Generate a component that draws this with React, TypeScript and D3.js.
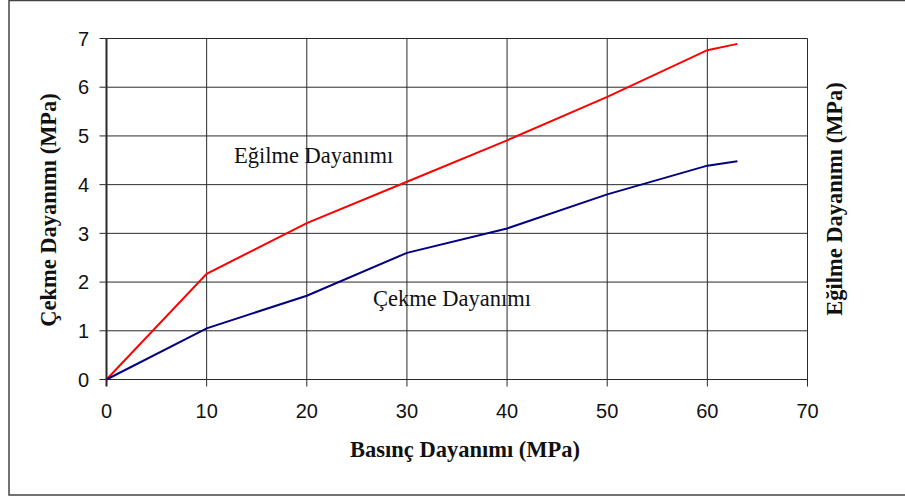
import * as d3 from 'd3';
import React from 'react';

// x: Basınç Dayanımı (MPa)
const basinc = [0, 10, 20, 30, 40, 50, 60, 63];
const egilme = [0, 2.17, 3.21, 4.06, 4.91, 5.8, 6.76, 6.89];
const cekme = [0, 1.05, 1.72, 2.6, 3.1, 3.8, 4.39, 4.48];

const xTicks = [0, 10, 20, 30, 40, 50, 60, 70];
const yTicks = [0, 1, 2, 3, 4, 5, 6, 7];

const width = 905;
const height = 497;
const marginLeft = 106.5;
const marginRight = 905 - 807.5;
const marginTop = 38.5;
const marginBottom = 497 - 379.5;

export default function App() {
  const x = d3.scaleLinear()
    .domain([0, 70])
    .range([marginLeft, width - marginRight]);

  const y = d3.scaleLinear()
    .domain([0, 7])
    .range([height - marginBottom, marginTop]);

  const line = d3.line<[number, number]>()
    .x(d => x(d[0]))
    .y(d => y(d[1]));

  const egilmeData = basinc.map((b, i) => [b, egilme[i]] as [number, number]);
  const cekmeData = basinc.map((b, i) => [b, cekme[i]] as [number, number]);

  const serif = '"Liberation Serif", "Times New Roman", serif';
  const sans = '"Liberation Sans", Arial, sans-serif';
  const grid = '#2a2a2a';

  return (
    <svg
      width={width}
      height={height}
      viewBox={`0 0 ${width} ${height}`}
      style={{ position: 'absolute', left: 0, top: 0, background: '#fff' }}
    >
      {/* outer frame */}
      <rect x={9} y={0.5} width={905} height={494.5} fill="none" stroke="#444" strokeWidth={1.5} />

      {/* horizontal gridlines + left ticks */}
      {yTicks.map(t => (
        <g key={`y${t}`}>
          <line x1={x(0) - 7} x2={x(70)} y1={y(t)} y2={y(t)} stroke={grid} strokeWidth={1} />
          <text x={89} y={y(t)} dy="0.36em" textAnchor="end" fontFamily={sans} fontSize={20} fill="#111">
            {t}
          </text>
        </g>
      ))}

      {/* vertical gridlines + bottom ticks */}
      {xTicks.map(t => (
        <g key={`x${t}`}>
          <line x1={x(t)} x2={x(t)} y1={y(7)} y2={y(0) + 7} stroke={grid} strokeWidth={t === 0 ? 2 : 1} />
          <text x={x(t)} y={418} textAnchor="middle" fontFamily={sans} fontSize={20} fill="#111">
            {t}
          </text>
        </g>
      ))}

      {/* series */}
      <path d={line(egilmeData) ?? ''} fill="none" stroke="#ff0000" strokeWidth={2} />
      <path d={line(cekmeData) ?? ''} fill="none" stroke="#000080" strokeWidth={2} />

      {/* in-plot labels */}
      <text x={234} y={163} fontFamily={serif} fontSize={22.5} fill="#111">Eğilme Dayanımı</text>
      <text x={373} y={306} fontFamily={serif} fontSize={22.5} fill="#111">Çekme Dayanımı</text>

      {/* axis titles */}
      <text x={465} y={457} textAnchor="middle" fontFamily={serif} fontSize={22.5} fontWeight="bold" fill="#111">
        Basınç Dayanımı (MPa)
      </text>
      <text
        transform="translate(56,210) rotate(-90)"
        textAnchor="middle"
        fontFamily={serif}
        fontSize={22.5}
        fontWeight="bold"
        fill="#111"
      >
        Çekme Dayanımı (MPa)
      </text>
      <text
        transform="translate(842,199) rotate(-90)"
        textAnchor="middle"
        fontFamily={serif}
        fontSize={22.5}
        fontWeight="bold"
        fill="#111"
      >
        Eğilme Dayanımı (MPa)
      </text>
    </svg>
  );
}
